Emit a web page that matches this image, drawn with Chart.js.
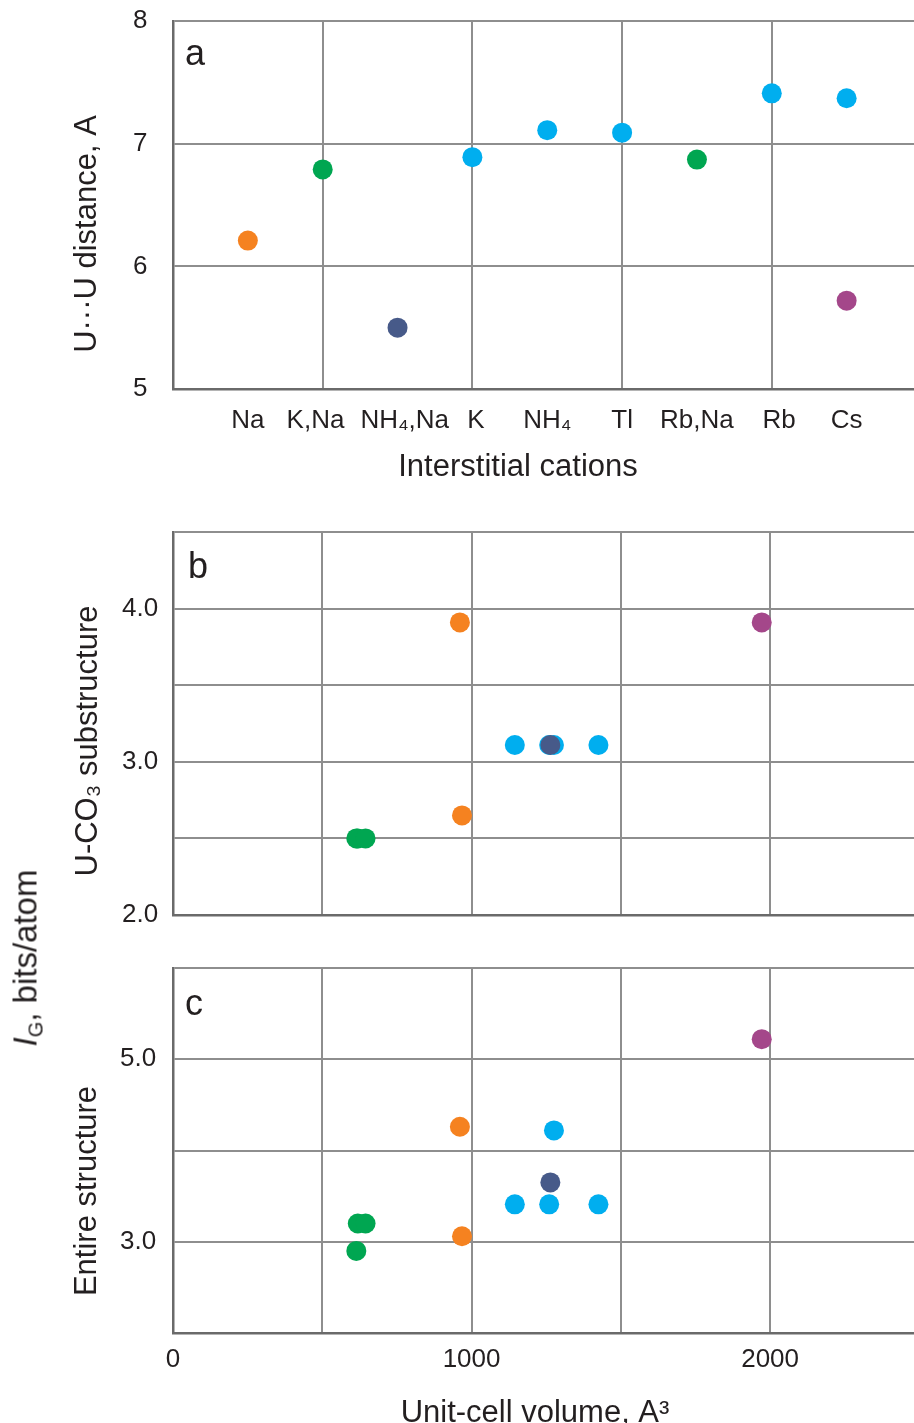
<!DOCTYPE html>
<html>
<head>
<meta charset="utf-8">
<script src="https://cdn.jsdelivr.net/npm/chart.js@4.4.1/dist/chart.umd.min.js"></script>
<style>
  body { margin: 0; background: #fff; width: 914px; height: 1423px; overflow: hidden; position: relative;
         font-family: "Liberation Sans", Arial, sans-serif; color: #231f20; }
  .panel { position: absolute; left: 0; width: 914px; }
  #igLabel { position: absolute; left: 27px; top: 958px; white-space: nowrap; font-size: 33px;
             transform: translate(-50%, -50%) rotate(-90deg); }
  #igLabel sub { font-size: 20px; vertical-align: -6px; }
</style>
</head>
<body>
<div class="panel" style="top:0;height:490px"><canvas id="chartA"></canvas></div>
<div class="panel" style="top:490px;height:450px"><canvas id="chartB"></canvas></div>
<div class="panel" style="top:940px;height:483px"><canvas id="chartC"></canvas></div>
<div id="igLabel"><i>I</i><sub>G</sub>, bits/atom</div>

<script>
// panel a: U...U distance per interstitial cation
const cations = ["Na", "K,Na", "NH₄,Na", "K", "NH₄", "Tl", "Rb,Na", "Rb", "Cs"];
const distOrangeCat = ["Na"];
const distOrange = [6.21];
const distGreenCat = ["K,Na", "Rb,Na"];
const distGreen = [6.79, 6.87];
const distNavyCat = ["NH₄,Na"];
const distNavy = [5.50];
const distCyanCat = ["K", "NH₄", "Tl", "Rb", "Cs"];
const distCyan = [6.89, 7.11, 7.09, 7.41, 7.37];
const distPurpleCat = ["Cs"];
const distPurple = [5.72];

// panels b, c: unit-cell volume vs I_G (substructure, entire structure)
const volOrange = [961, 968];
const subOrange = [3.91, 2.65];
const entOrange = [4.26, 3.06];
const volGreen = [614, 619, 645];
const subGreen = [2.50, 2.50, 2.50];
const entGreen = [2.90, 3.20, 3.20];
const volNavy = [1264];
const subNavy = [3.11];
const entNavy = [3.65];
const volCyan = [1145, 1260, 1276, 1425];
const subCyan = [3.11, 3.11, 3.11, 3.11];
const entCyan = [3.41, 3.41, 4.22, 3.41];
const volPurple = [1972];
const subPurple = [3.91];
const entPurple = [5.22];

const volGrid = [0, 500, 1000, 1500, 2000];
const volTicks = [0, 1000, 2000];

const ORANGE = "#f58220", GREEN = "#00a651", NAVY = "#475a89", CYAN = "#00aeef", PURPLE = "#a4478a";
const GRID = "#8e8e8e", BORDER = "#6a6a6a", TEXT = "#231f20";
const FONT = "'Liberation Sans', Arial, sans-serif";
const tickFont = { family: FONT, size: 26 };
// the original nudges crowded cation labels sideways: <0 pads right (moves left), >0 pads left
const labelNudge = { "K,Na": -2, "NH₄,Na": 2, "K": 1, "Rb": 2 };

function cationLabel(v) {
  const name = cations[v - 1];
  if (!name) return "";
  const n = labelNudge[name] || 0;
  return n > 0 ? " ".repeat(n) + name : name + " ".repeat(-n);
}

const catPoints = (cats, vals) => cats.map((c, i) => ({ x: cations.indexOf(c) + 1, y: vals[i] }));
const volPoints = (vols, vals) => vols.map((v, i) => ({ x: v, y: vals[i] }));

function ds(data, color) {
  return { data, backgroundColor: color, borderWidth: 0, pointRadius: 10, pointHoverRadius: 10 };
}

// free texts: axis titles and panel letters
const textPlugin = {
  id: "texts",
  afterDraw(chart, args, opts) {
    const ctx = chart.ctx;
    (opts.items || []).forEach(t => {
      ctx.save();
      ctx.translate(t.x, t.y);
      ctx.rotate(t.rot || 0);
      ctx.font = t.font;
      ctx.fillStyle = TEXT;
      ctx.textAlign = t.align || "center";
      ctx.textBaseline = t.baseline || "middle";
      ctx.fillText(t.text, 0, 0);
      ctx.restore();
    });
  }
};
Chart.register(textPlugin);

// labels are left aligned at the left edge of the axis box (all have the same width)
function yScale(min, max, step, labelLeft, fmt) {
  return {
    min, max,
    ticks: { stepSize: step, padding: 0, crossAlign: "far", font: tickFont, color: TEXT, callback: fmt },
    grid: { color: GRID, lineWidth: 2, drawTicks: false },
    border: { color: BORDER, width: 2.5 },
    afterFit: s => { s.width = 173 - labelLeft; }
  };
}

function volScale(showTicks, height) {
  return {
    type: "linear", min: 0, max: 2482,
    afterBuildTicks: s => { s.ticks = volGrid.map(v => ({ value: v })); },
    ticks: {
      display: showTicks, autoSkip: false, maxRotation: 0,
      padding: 11, font: tickFont, color: TEXT,
      callback: v => volTicks.includes(v) ? String(v) : ""
    },
    grid: { color: GRID, lineWidth: 2, drawTicks: false },
    border: { color: BORDER, width: 2.5 },
    afterFit: s => { s.height = height; }
  };
}

function makeChart(id, datasets, scales, padTop, padLeft, items) {
  return new Chart(document.getElementById(id), {
    type: "scatter",
    data: { datasets },
    options: {
      responsive: true,
      maintainAspectRatio: false,
      animation: false,
      events: [],
      layout: { autoPadding: false, padding: { top: padTop, right: 0, bottom: 0, left: padLeft } },
      plugins: { legend: { display: false }, tooltip: { enabled: false }, texts: { items } },
      scales
    }
  });
}

const titleFont = `31px ${FONT}`;
const letterFont = `36px ${FONT}`;
const UP = -Math.PI / 2;

makeChart("chartA", [
  ds(catPoints(distOrangeCat, distOrange), ORANGE),
  ds(catPoints(distGreenCat, distGreen), GREEN),
  ds(catPoints(distNavyCat, distNavy), NAVY),
  ds(catPoints(distCyanCat, distCyan), CYAN),
  ds(catPoints(distPurpleCat, distPurple), PURPLE)
], {
  x: {
    type: "linear", min: 0, max: 9.9,
    afterBuildTicks: s => { s.ticks = [0, ...cations.map((c, i) => i + 1)].map(v => ({ value: v })); },
    ticks: {
      autoSkip: false, maxRotation: 0, padding: 16, font: tickFont, color: TEXT,
      callback: cationLabel
    },
    grid: { color: c => (c.tick && c.tick.value % 2 === 0) ? GRID : "rgba(0,0,0,0)", lineWidth: 2, drawTicks: false },
    border: { color: BORDER, width: 2.5 },
    afterFit: s => { s.height = 101; }
  },
  y: yScale(5, 8, 1, 133)
}, 21, 133, [
  { text: "a", x: 185, y: 65, font: letterFont, align: "left", baseline: "alphabetic" },
  { text: "Interstitial cations", x: 518, y: 476, font: titleFont, baseline: "alphabetic" },
  { text: "U···U distance, A", x: 87, y: 234, rot: UP, font: titleFont }
]);

const intFmt = v => Number.isInteger(v) ? v.toFixed(1) : "";

makeChart("chartB", [
  ds(volPoints(volOrange, subOrange), ORANGE),
  ds(volPoints(volGreen, subGreen), GREEN),
  ds(volPoints(volNavy, subNavy), NAVY),
  ds(volPoints(volCyan, subCyan), CYAN),
  ds(volPoints(volPurple, subPurple), PURPLE)
], {
  x: volScale(false, 25),
  y: yScale(2, 4.5, 0.5, 122, intFmt)
}, 42, 122, [
  { text: "b", x: 188, y: 88, font: letterFont, align: "left", baseline: "alphabetic" },
  { text: "U-CO₃ substructure", x: 88, y: 251, rot: UP, font: titleFont }
]);

makeChart("chartC", [
  ds(volPoints(volOrange, entOrange), ORANGE),
  ds(volPoints(volGreen, entGreen), GREEN),
  ds(volPoints(volNavy, entNavy), NAVY),
  ds(volPoints(volCyan, entCyan), CYAN),
  ds(volPoints(volPurple, entPurple), PURPLE)
], {
  x: volScale(true, 90),
  y: yScale(2, 6, 1, 120, v => (v === 3 || v === 5) ? v.toFixed(1) : "")
}, 28, 120, [
  { text: "c", x: 185, y: 75, font: letterFont, align: "left", baseline: "alphabetic" },
  { text: "Entire structure", x: 87, y: 251, rot: UP, font: titleFont },
  { text: "Unit-cell volume, A³", x: 535, y: 482, font: titleFont, baseline: "alphabetic" }
]);
</script>
</body>
</html>
